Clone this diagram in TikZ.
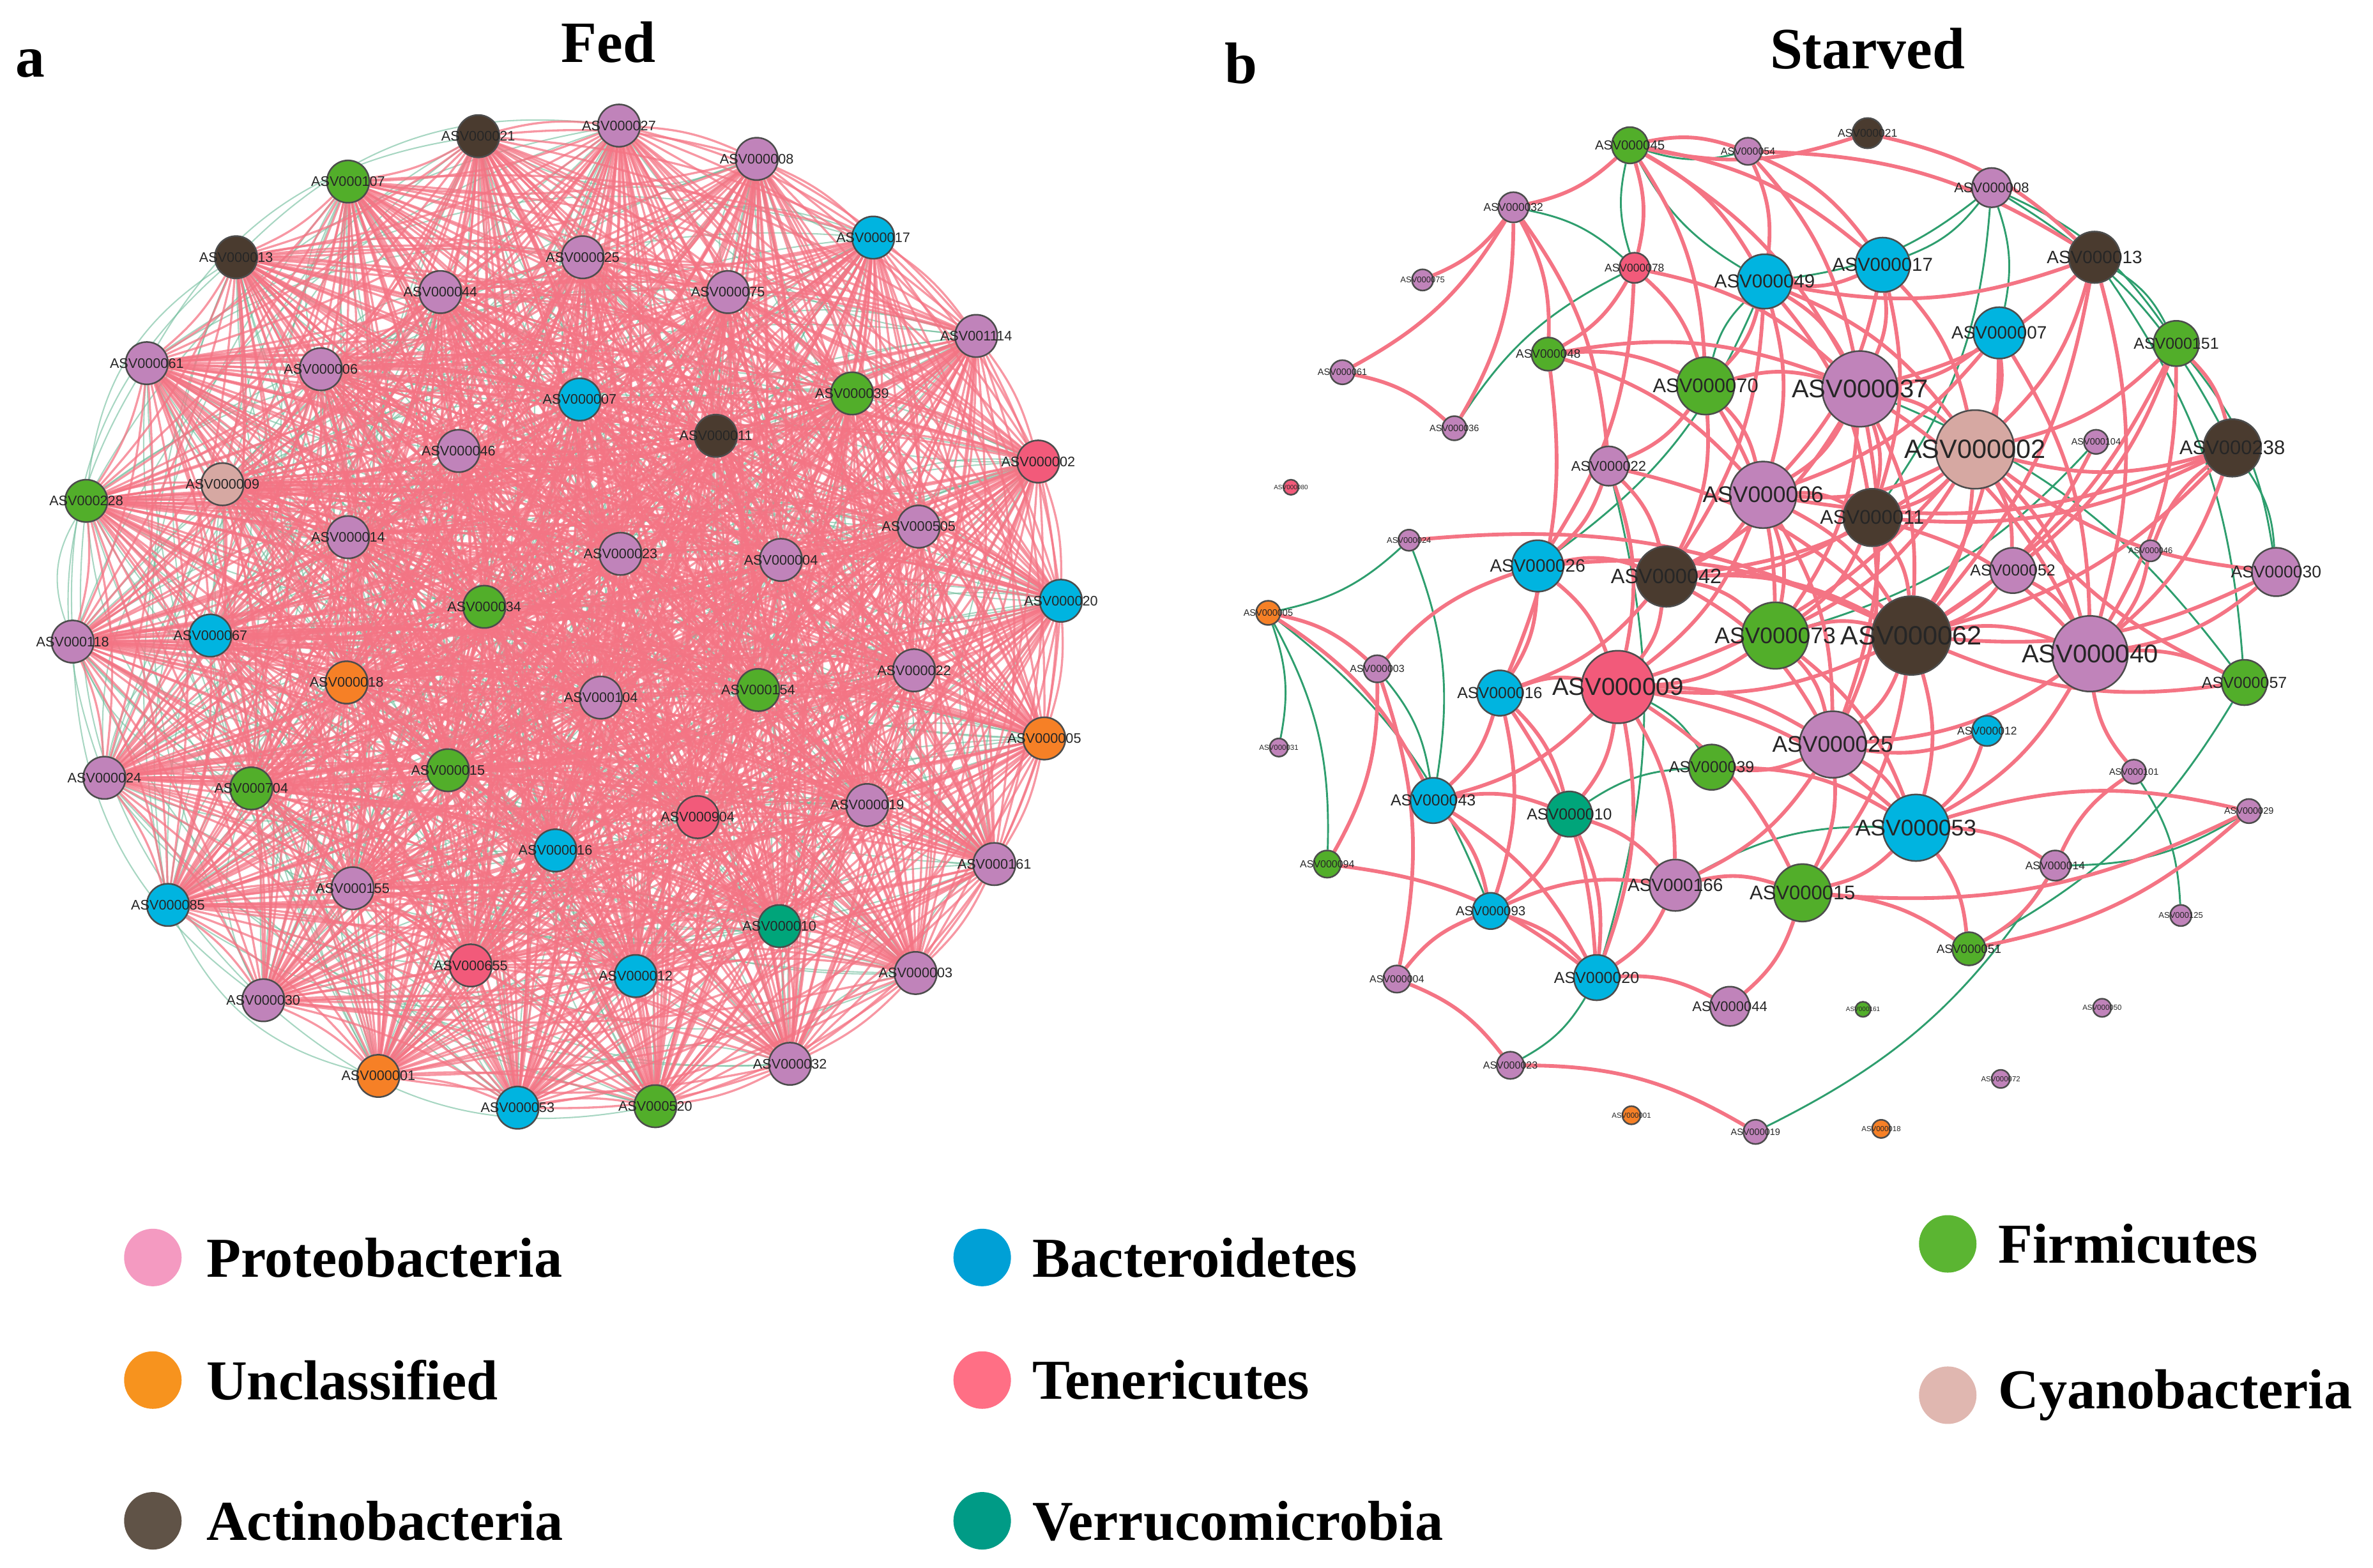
\documentclass[tikz,border=0pt]{standalone}
\usepackage{fontspec}
\setmainfont{Liberation Serif}
\newfontfamily\lab{Liberation Sans}
\usetikzlibrary{backgrounds}
\definecolor{cP}{HTML}{C083BA}
\definecolor{cB}{HTML}{00B4E0}
\definecolor{cA}{HTML}{4A3B2F}
\definecolor{cF}{HTML}{52AE2A}
\definecolor{cT}{HTML}{F25A7A}
\definecolor{cV}{HTML}{00A57A}
\definecolor{cC}{HTML}{D6A8A2}
\definecolor{cU}{HTML}{F68026}
\definecolor{lP}{HTML}{F49AC1}
\definecolor{lU}{HTML}{F7931E}
\definecolor{lA}{HTML}{605347}
\definecolor{lB}{HTML}{00A0D6}
\definecolor{lT}{HTML}{FF6F85}
\definecolor{lV}{HTML}{009B86}
\definecolor{lF}{HTML}{5BB532}
\definecolor{lC}{HTML}{E0B7B0}
\definecolor{ep}{HTML}{F47484}
\definecolor{eg}{HTML}{2E9E6E}
\newcommand\SN[6]{\pgfmathsetmacro\fs{0.18*#4+0.3}%
\node[nd,fill=#5,minimum size=#4*0.2mm,label={[font=\lab\fontsize{\fs}{\fs}\selectfont,text=black!85]center:#6}] (#1) at (#2,#3) {};}
\begin{document}
\begin{tikzpicture}[x=0.1mm,y=-0.1mm,
 nd/.style={circle,draw=black!70,line width=0.3pt,inner sep=0pt},
 pe/.style={draw=ep,line width=0.7pt},
 ge/.style={draw=eg,line width=0.35pt},
 pf/.style={draw=ep,line width=0.4pt,opacity=0.75},
 gf/.style={draw=eg!70,line width=0.25pt,opacity=0.6},
 ttl/.style={font=\bfseries\fontsize{11}{13}\selectfont},
 lg/.style={circle,minimum size=3.8mm,inner sep=0pt},
 lt/.style={anchor=west,font=\bfseries\fontsize{10.6}{13}\selectfont}]
\useasboundingbox (0,0) rectangle (1568,1036);
\node[ttl] (ta) at (20,42) {a};
\node[ttl] (tf) at (402,28) {Fed};
\node[ttl] (tb) at (820,42) {b};
\node[ttl] (ts) at (1234,32) {Starved};
% ---------- Fed ----------
\foreach \x/\y/\c/\t [count=\i] in {
316/90/cA/ASV000021,409/83/cP/ASV000027,500/105/cP/ASV000008,230/120/cF/ASV000107,
577/157/cB/ASV000017,156/170/cA/ASV000013,385/170/cP/ASV000025,291/193/cP/ASV000044,
481/193/cP/ASV000075,645/222/cP/ASV001114,97/240/cP/ASV000061,212/244/cP/ASV000006,
563/260/cF/ASV000039,383/264/cB/ASV000007,473/288/cA/ASV000011,303/298/cP/ASV000046,
686/305/cT/ASV000002,57/331/cF/ASV000228,147/320/cC/ASV000009,607/348/cP/ASV000505,
230/355/cP/ASV000014,410/366/cP/ASV000023,516/370/cP/ASV000004,320/401/cF/ASV000034,
701/397/cB/ASV000020,48/424/cP/ASV000118,139/420/cB/ASV000067,229/451/cU/ASV000018,
604/443/cP/ASV000022,397/461/cP/ASV000104,501/456/cF/ASV000154,690/488/cU/ASV000005,
69/514/cP/ASV000024,166/521/cF/ASV000704,296/509/cF/ASV000015,461/540/cT/ASV000904,
573/532/cP/ASV000019,367/562/cB/ASV000016,657/571/cP/ASV000161,111/598/cB/ASV000085,
233/587/cP/ASV000155,515/612/cV/ASV000010,311/638/cT/ASV000655,420/645/cB/ASV000012,
605/643/cP/ASV000003,174/661/cP/ASV000030,522/703/cP/ASV000032,250/711/cU/ASV000001,
342/732/cB/ASV000053,433/731/cF/ASV000520}
{\node[nd,fill=\c,minimum size=2.8mm,label={[font=\lab\fontsize{2.6}{3}\selectfont,text=black!85]center:\t}] (f\i) at (\x,\y) {};}
\begin{scope}[on background layer]
\foreach \i [evaluate=\i as \k using int(\i+1)] in {1,...,49}
 {\foreach \j in {\k,...,50}
  {\pgfmathtruncatemacro\m{mod(\i*7+\j*3,4)}
   \ifnum\m=0 \draw[gf] (f\i) to[bend right=25] (f\j);\fi}}
\foreach \i [evaluate=\i as \k using int(\i+1)] in {1,...,49}
 {\foreach \j in {\k,...,50}
  {\draw[pf] (f\i) to[bend left=10] (f\j);}}
\end{scope}
% ---------- Starved ----------
\SN{s45}{1077}{96}{12}{cF}{ASV000045}
\SN{s54}{1155}{100}{9}{cP}{ASV000054}
\SN{s21}{1234}{88}{10}{cA}{ASV000021}
\SN{s08}{1316}{124}{13}{cP}{ASV000008}
\SN{s32}{1000}{137}{10}{cP}{ASV000032}
\SN{s78}{1080}{177}{10}{cT}{ASV000078}
\SN{s49}{1166}{186}{18}{cB}{ASV000049}
\SN{s17}{1244}{175}{18}{cB}{ASV000017}
\SN{s13}{1384}{170}{17}{cA}{ASV000013}
\SN{s75}{940}{185}{7}{cP}{ASV000075}
\SN{s07}{1321}{220}{17}{cB}{ASV000007}
\SN{s151}{1438}{227}{15}{cF}{ASV000151}
\SN{s61}{887}{246}{8}{cP}{ASV000061}
\SN{s48}{1023}{234}{11}{cF}{ASV000048}
\SN{s70}{1127}{255}{19}{cF}{ASV000070}
\SN{s37}{1229}{257}{25}{cP}{ASV000037}
\SN{s238}{1475}{296}{19}{cA}{ASV000238}
\SN{s36}{961}{283}{8}{cP}{ASV000036}
\SN{s02}{1305}{297}{26}{cC}{ASV000002}
\SN{s104}{1385}{292}{8}{cP}{ASV000104}
\SN{s22}{1063}{308}{13}{cP}{ASV000022}
\SN{s06}{1165}{327}{22}{cP}{ASV000006}
\SN{s11}{1237}{342}{19}{cA}{ASV000011}
\SN{s80}{853}{322}{5}{cT}{ASV000080}
\SN{s24}{931}{357}{7}{cP}{ASV000024}
\SN{s46}{1421}{364}{7}{cP}{ASV000046}
\SN{s26}{1016}{374}{17}{cB}{ASV000026}
\SN{s42}{1101}{381}{20}{cA}{ASV000042}
\SN{s52}{1330}{377}{15}{cP}{ASV000052}
\SN{s30}{1504}{378}{16}{cP}{ASV000030}
\SN{s05}{838}{405}{8}{cU}{ASV000005}
\SN{s73}{1173}{420}{22}{cF}{ASV000073}
\SN{s62}{1263}{420}{26}{cA}{ASV000062}
\SN{s40}{1381}{432}{25}{cP}{ASV000040}
\SN{s57}{1483}{451}{15}{cF}{ASV000057}
\SN{s03}{910}{442}{9}{cP}{ASV000003}
\SN{s16}{991}{458}{15}{cB}{ASV000016}
\SN{s09}{1069}{454}{24}{cT}{ASV000009}
\SN{s12}{1313}{483}{10}{cB}{ASV000012}
\SN{s31}{845}{494}{6}{cP}{ASV000031}
\SN{s25}{1211}{492}{22}{cP}{ASV000025}
\SN{s39}{1131}{507}{15}{cF}{ASV000039}
\SN{s101}{1410}{510}{8}{cP}{ASV000101}
\SN{s43}{947}{529}{15}{cB}{ASV000043}
\SN{s10}{1037}{538}{15}{cV}{ASV000010}
\SN{s53}{1266}{547}{22}{cB}{ASV000053}
\SN{s29}{1486}{536}{8}{cP}{ASV000029}
\SN{s94}{877}{571}{9}{cF}{ASV000094}
\SN{s14}{1358}{572}{10}{cP}{ASV000014}
\SN{s166}{1107}{585}{17}{cP}{ASV000166}
\SN{s15}{1191}{590}{19}{cF}{ASV000015}
\SN{s93}{985}{602}{12}{cB}{ASV000093}
\SN{s125}{1441}{605}{7}{cP}{ASV000125}
\SN{s51}{1301}{627}{11}{cF}{ASV000051}
\SN{s20}{1055}{646}{15}{cB}{ASV000020}
\SN{s04}{923}{647}{9}{cP}{ASV000004}
\SN{s44}{1143}{665}{13}{cP}{ASV000044}
\SN{s161}{1231}{667}{5}{cF}{ASV000161}
\SN{s50}{1389}{666}{6}{cP}{ASV000050}
\SN{s23}{998}{704}{9}{cP}{ASV000023}
\SN{s72}{1322}{713}{6}{cP}{ASV000072}
\SN{s01}{1078}{737}{6}{cU}{ASV000001}
\SN{s18}{1243}{746}{6}{cU}{ASV000018}
\SN{s19}{1160}{748}{8}{cP}{ASV000019}
\begin{scope}[on background layer]
\foreach \a/\b in {s45/s32,s78/s45,s49/s45,s32/s61,s61/s36,s36/s78,s54/s45,s08/s49,s08/s17,s08/s07,s08/s11,
 s08/s151,s08/s238,s13/s151,s13/s57,s151/s30,s238/s30,s70/s49,s24/s05,s05/s31,s05/s94,s03/s94,s05/s93,
 s03/s43,s10/s93,s10/s39,s09/s39,s20/s23,s166/s53,s53/s14,s14/s19,s101/s125,s29/s14,s57/s51,s37/s57,
 s32/s78,s49/s26,s22/s20,s104/s73,s24/s43}
 {\draw[ge] (\a) to[bend left=15] (\b);}
\foreach \a/\b in {s45/s32,s45/s78,s45/s70,s45/s54,s45/s49,s45/s37,s45/s17,s32/s75,s32/s61,s32/s36,s32/s22,
 s32/s48,s61/s36,s78/s70,s78/s48,s78/s37,s78/s26,s48/s70,s48/s37,s48/s06,s48/s16,s54/s49,s54/s17,s54/s13,
 s54/s37,s21/s13,s21/s45,s17/s37,s17/s49,s17/s06,s17/s02,s17/s11,s49/s70,s49/s37,s49/s06,s49/s02,
 s49/s11,s49/s42,s13/s37,s13/s02,s13/s62,s13/s40,s13/s49,s07/s37,s07/s02,s07/s62,s07/s06,s07/s40,s151/s02,
 s151/s62,s151/s40,s151/s238,s151/s52,s238/s02,s238/s06,s238/s62,s238/s40,s238/s11,s70/s37,s70/s06,s70/s42,
 s70/s22,s70/s73,s37/s02,s37/s06,s37/s11,s37/s62,s37/s73,s37/s42,s37/s40,s37/s25,s02/s06,s02/s11,s02/s62,
 s02/s40,s02/s73,s02/s52,s02/s42,s02/s09,s06/s11,s06/s42,s06/s62,s06/s73,s06/s09,s06/s25,s11/s62,s11/s73,
 s11/s42,s11/s40,s11/s25,s22/s42,s22/s09,s22/s62,s22/s26,s26/s16,s26/s42,s26/s09,s26/s62,s24/s62,s42/s09,
 s42/s73,s42/s62,s42/s25,s42/s16,s52/s40,s52/s62,s30/s40,s30/s62,s30/s02,s73/s62,s73/s09,s73/s25,s73/s53,
 s62/s40,s62/s25,s62/s53,s62/s09,s62/s15,s40/s57,s40/s53,s40/s25,s57/s02,s05/s03,s05/s43,s03/s26,s03/s94,
 s03/s04,s16/s09,s16/s43,s16/s10,s16/s93,s16/s20,s09/s10,s09/s43,s09/s166,s09/s25,s09/s53,s09/s15,s09/s20,
 s12/s25,s12/s53,s25/s53,s25/s15,s25/s39,s25/s166,s39/s53,s43/s10,s43/s93,s43/s20,s10/s166,s10/s20,s10/s93,
 s53/s14,s53/s29,s53/s51,s53/s15,s14/s101,s14/s51,s29/s15,s94/s20,s93/s20,s93/s166,s166/s20,s166/s15,
 s15/s44,s15/s51,s20/s44,s04/s23,s23/s19,s04/s93,s101/s40,s104/s62,s46/s40,s46/s238,s57/s62,s29/s51}
 {\draw[pe] (\a) to[bend left=15] (\b);}
\end{scope}
% ---------- Legend ----------
\node[lg,fill=lP] (l1) at (101,831) {}; \node[lt] (t1) at (124,831) {Proteobacteria};
\node[lg,fill=lU] (l2) at (101,912) {}; \node[lt] (t2) at (124,912) {Unclassified};
\node[lg,fill=lA] (l3) at (101,1005) {}; \node[lt] (t3) at (124,1005) {Actinobacteria};
\node[lg,fill=lB] (l4) at (649,831) {}; \node[lt] (t4) at (670,831) {Bacteroidetes};
\node[lg,fill=lT] (l5) at (649,912) {}; \node[lt] (t5) at (670,912) {Tenericutes};
\node[lg,fill=lV] (l6) at (649,1005) {}; \node[lt] (t6) at (670,1005) {Verrucomicrobia};
\node[lg,fill=lF] (l7) at (1287,822) {}; \node[lt] (t7) at (1308,822) {Firmicutes};
\node[lg,fill=lC] (l8) at (1287,922) {}; \node[lt] (t8) at (1308,922) {Cyanobacteria};
\end{tikzpicture}
\end{document}
